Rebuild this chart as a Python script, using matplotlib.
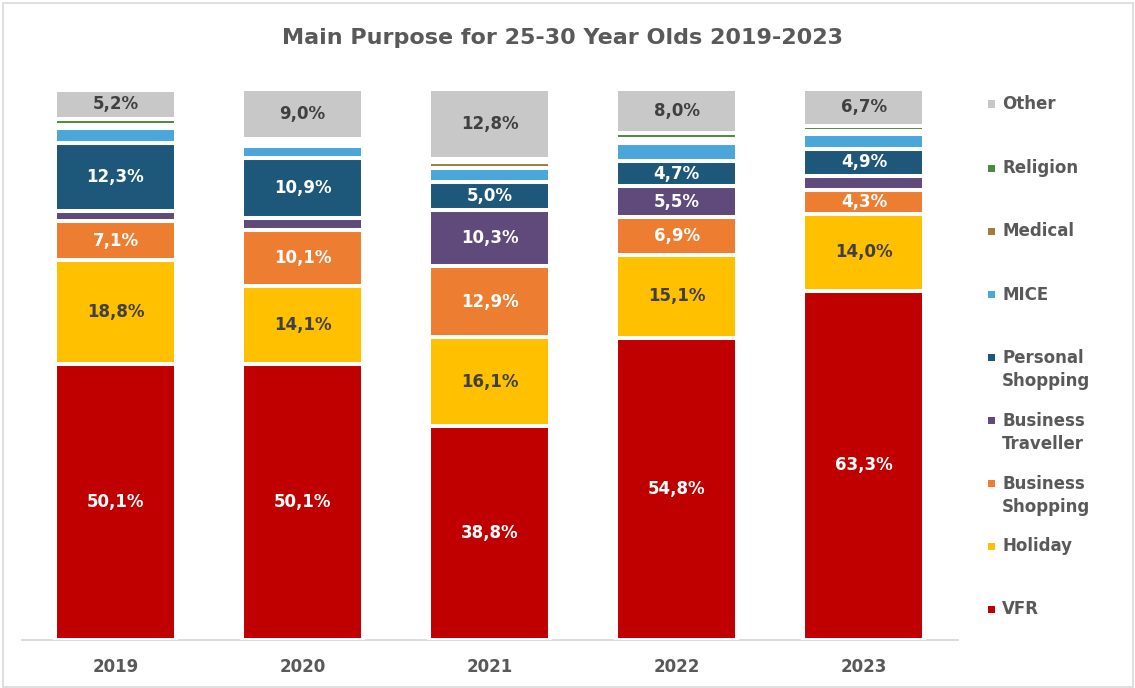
import matplotlib
matplotlib.use("Agg")
import matplotlib.pyplot as plt
from matplotlib.patches import Rectangle

# ---- data (percent of 25-30 year old travellers by main purpose) ----
years = ["2019", "2020", "2021", "2022", "2023"]
vfr = [50.1, 50.1, 38.8, 54.8, 63.3]
holiday = [18.8, 14.1, 16.1, 15.1, 14.0]
business_shopping = [7.1, 10.1, 12.9, 6.9, 4.3]
business_traveller = [1.8, 2.3, 10.3, 5.5, 2.6]
personal_shopping = [12.3, 10.9, 5.0, 4.7, 4.9]
mice = [2.8, 2.2, 2.6, 3.1, 2.7]
medical = [0.5, 0.6, 1.0, 0.8, 0.5]
religion = [1.2, 0.7, 0.5, 1.1, 1.0]
other = [5.2, 9.0, 12.8, 8.0, 6.7]

series_names = ["VFR", "Holiday", "Business\nShopping", "Business\nTraveller",
                "Personal\nShopping", "MICE", "Medical", "Religion", "Other"]
series_values = [vfr, holiday, business_shopping, business_traveller,
                 personal_shopping, mice, medical, religion, other]
colors = ["#C00000", "#FFC000", "#ED7D31", "#604A7B", "#1D5779",
          "#4BA6DA", "#A47A3E", "#4E8A3E", "#C8C8C8"]
label_colors = ["white", "#404040", "white", "white", "white",
                "white", "white", "white", "#404040"]

TEXT = "#595959"
FONT = "DejaVu Sans"

fig = plt.figure(figsize=(11.35, 6.88), dpi=100)
fig.patch.set_facecolor("white")

ax = fig.add_axes([22 / 1135, 1 - 639.5 / 688, (957.5 - 22) / 1135, (639.5 - 89) / 688])

x = range(len(years))
bottom = [0.0] * len(years)
for vals, col, lcol in zip(series_values, colors, label_colors):
    ax.bar(x, vals, width=0.647, bottom=bottom, color=col,
           edgecolor="white", linewidth=2.9, zorder=2)
    for i, v in enumerate(vals):
        if v >= 4.0:
            ax.text(i, bottom[i] + v / 2, f"{v:.1f}".replace(".", ",") + "%",
                    ha="center", va="center", color=lcol, fontsize=12,
                    fontweight="bold", family=FONT, zorder=3)
    bottom = [b + v for b, v in zip(bottom, vals)]

ax.set_xlim(-0.5, len(years) - 0.5)
ax.set_ylim(0, 100)
ax.set_yticks([])
ax.set_xticks(list(x))
ax.set_xticklabels(years, fontsize=12, fontweight="bold", color=TEXT, family=FONT)
ax.tick_params(axis="x", length=0, pad=13.5)
for side in ("top", "right", "left"):
    ax.spines[side].set_visible(False)
ax.spines["bottom"].set_color("#D9D9D9")
ax.spines["bottom"].set_linewidth(1.3)
ax.spines["bottom"].set_zorder(1)

fig.text(563 / 1135, 1 - 38 / 688, "Main Purpose for 25-30 Year Olds 2019-2023",
         ha="center", va="center", fontsize=16, fontweight="bold",
         color=TEXT, family=FONT)

# legend, drawn top (Other) to bottom (VFR)
legend_rows = [(104, None), (168, None), (231, None), (295, None),
               (357, 382), (420, 445), (483, 508), (546, None), (609, None)]
for (y1, y2), name, col in zip(legend_rows, series_names[::-1], colors[::-1]):
    yc = y1 if y2 is None else (y1 + y2) / 2
    fig.text(1002 / 1135, 1 - yc / 688, name, ha="left", va="center",
             fontsize=12, fontweight="bold", color=TEXT, family=FONT,
             linespacing=1.4)
    fig.patches.append(Rectangle((988 / 1135, 1 - (y1 + 3.5) / 688), 7 / 1135, 7 / 688,
                                 transform=fig.transFigure, facecolor=col,
                                 edgecolor="none"))

# outer chart border
fig.patches.append(Rectangle((2.5 / 1135, 1.5 / 688), 1130 / 1135, 684 / 688,
                             transform=fig.transFigure, facecolor="none",
                             edgecolor="#D9D9D9", linewidth=1.2))

fig.savefig("out.png", dpi=100, facecolor="white")
